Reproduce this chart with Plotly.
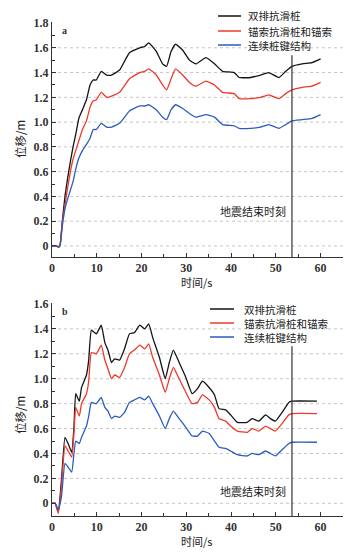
import plotly.graph_objects as go

# ---------------- data: panel a ----------------
t_a = [0, 1.0, 1.4, 1.8, 2.3, 2.9, 3.5, 4.1, 4.7, 5.3, 6.0, 6.8, 7.7, 8.5, 9.2, 9.9,
       11.0, 12.2, 13.3, 15.1, 17.3, 19.6, 20.7, 21.6, 23.3, 24.7, 25.6, 26.6, 27.6,
       29.2, 30.7, 32.1, 34.4, 36.3, 38.1, 40.7, 41.8, 44.4, 46.6, 48.4, 50.7, 52.2,
       53.6, 55.9, 58.1, 60.0]
double_a = [0, 0, -0.01, 0.01, 0.20, 0.40, 0.55, 0.68, 0.80, 0.90, 1.03, 1.10, 1.18, 1.30,
            1.34, 1.34, 1.41, 1.38, 1.38, 1.42, 1.56, 1.60, 1.61, 1.64, 1.57, 1.47, 1.45,
            1.57, 1.63, 1.58, 1.50, 1.47, 1.52, 1.47, 1.41, 1.40, 1.36, 1.36, 1.38, 1.40,
            1.36, 1.41, 1.45, 1.47, 1.48, 1.51]
anchor_a = [0, 0, -0.01, 0.01, 0.19, 0.33, 0.47, 0.60, 0.70, 0.77, 0.85, 0.94, 1.01, 1.12,
            1.17, 1.18, 1.24, 1.20, 1.21, 1.24, 1.35, 1.40, 1.41, 1.43, 1.38, 1.30, 1.26,
            1.35, 1.43, 1.38, 1.32, 1.29, 1.33, 1.30, 1.24, 1.23, 1.19, 1.19, 1.20, 1.22,
            1.19, 1.23, 1.26, 1.28, 1.29, 1.32]
cont_a = [0, 0, -0.01, 0.0, 0.16, 0.30, 0.38, 0.45, 0.52, 0.62, 0.71, 0.77, 0.82, 0.87,
          0.94, 0.94, 0.99, 0.96, 0.96, 0.99, 1.09, 1.13, 1.13, 1.14, 1.10, 1.04, 1.02,
          1.10, 1.14, 1.11, 1.07, 1.04, 1.06, 1.04, 0.98, 0.97, 0.95, 0.95, 0.96, 0.98,
          0.95, 0.98, 1.01, 1.02, 1.03, 1.06]

# ---------------- data: panel b ----------------
t_b = [0, 0.7, 1.4, 2.1, 2.9, 3.6, 4.4, 4.9, 5.3, 6.1, 6.6, 7.7, 8.2, 8.8, 9.9, 11.0,
       11.8, 12.5, 13.3, 14.0, 15.1, 16.2, 17.3, 18.4, 19.6, 20.7, 21.6, 22.5, 24.0,
       25.3, 26.2, 27.1, 28.4, 29.9, 31.3, 32.5, 33.6, 35.1, 36.3, 37.3, 38.8, 39.9,
       41.4, 43.6, 44.7, 46.2, 47.7, 48.8, 49.9, 51.4, 52.9, 53.6, 59.2]
double_b = [0, 0, -0.07, 0.18, 0.53, 0.48, 0.41, 0.61, 0.88, 0.82, 0.93, 1.03, 1.15, 1.39,
            1.36, 1.43, 1.29, 1.23, 1.13, 1.16, 1.15, 1.24, 1.36, 1.37, 1.43, 1.40, 1.44,
            1.33, 1.17, 1.00, 1.13, 1.23, 1.13, 1.01, 0.88, 0.92, 0.98, 0.93, 0.87, 0.76,
            0.75, 0.71, 0.65, 0.65, 0.68, 0.66, 0.71, 0.68, 0.66, 0.73, 0.81, 0.82, 0.82]
anchor_b = [0, 0, -0.08, 0.13, 0.46, 0.42, 0.37, 0.56, 0.77, 0.70, 0.80, 0.88, 0.98, 1.21,
            1.20, 1.27, 1.15, 1.08, 1.00, 1.03, 1.01, 1.09, 1.20, 1.23, 1.27, 1.24, 1.28,
            1.17, 1.03, 0.89, 1.00, 1.09, 1.00, 0.89, 0.80, 0.81, 0.87, 0.83, 0.77, 0.68,
            0.66, 0.62, 0.58, 0.57, 0.60, 0.58, 0.62, 0.60, 0.58, 0.64, 0.71, 0.72, 0.72]
cont_b = [0, 0, -0.05, 0.05, 0.32, 0.29, 0.25, 0.40, 0.50, 0.48, 0.53, 0.62, 0.70, 0.81,
          0.80, 0.85, 0.77, 0.74, 0.68, 0.70, 0.69, 0.73, 0.81, 0.83, 0.85, 0.83, 0.86,
          0.80, 0.70, 0.60, 0.68, 0.74, 0.68, 0.61, 0.54, 0.54, 0.58, 0.56, 0.50, 0.45,
          0.44, 0.42, 0.39, 0.38, 0.40, 0.39, 0.42, 0.40, 0.38, 0.43, 0.48, 0.49, 0.49]

series_names = ["双排抗滑桩", "锚索抗滑桩和锚索", "连续桩键结构"]
quake_end = 53.6
quake_line_top = [1.54, 1.26]
yticks_a = [0, 0.2, 0.4, 0.6, 0.8, 1.0, 1.2, 1.4, 1.6, 1.8]
yticks_b = [0, 0.2, 0.4, 0.6, 0.8, 1.0, 1.2, 1.4, 1.6]
xticks = [0, 10, 20, 30, 40, 50, 60]

colors = ["#141414", "#ee3a2a", "#2b5cbf"]
W, H = 352, 552
ML, MR, MT, MB = 52, 9, 22, 36
PW, PH = W - ML - MR, H - MT - MB

def px(x):
    return (x - ML) / PW

def py(y):
    return (H - MB - y) / PH

CJK = "Noto Sans CJK SC"
SERIF = "Liberation Serif, Times New Roman, serif"

fig = go.Figure()

panels = [
    ("x", "y", t_a, [double_a, anchor_a, cont_a]),
    ("x2", "y2", t_b, [double_b, anchor_b, cont_b]),
]
for i, (xa, ya, t, ys) in enumerate(panels):
    for name, vals, c in zip(series_names, ys, colors):
        fig.add_trace(go.Scatter(x=t, y=vals, mode="lines", name=name, xaxis=xa, yaxis=ya,
                                 line=dict(color=c, width=1.3, shape="spline", smoothing=0.4),
                                 showlegend=False))
    yr = [-0.089, 1.808] if i == 0 else [-0.102, 1.608]
    fig.add_trace(go.Scatter(x=[quake_end, quake_end], y=[yr[0], quake_line_top[i]],
                             mode="lines", xaxis=xa, yaxis=ya, showlegend=False,
                             line=dict(color="#333333", width=1.2)))

# dotted grid lines
for xr, yr_, ticks in [("x", "y", yticks_a[:-1]), ("x2", "y2", yticks_b[:-1])]:
    for v in ticks:
        fig.add_shape(type="line", xref=xr, yref=yr_, x0=0, x1=65, y0=v, y1=v,
                      line=dict(color="#b8b8b8", width=0.8, dash="dot"), layer="below")

tickfont = dict(family=SERIF, size=12, color="#333333", weight="bold")

def xaxis_cfg(anchor):
    return dict(range=[0, 65], anchor=anchor, showline=True, linecolor="#333333", linewidth=1,
                ticks="inside", ticklen=4, tickcolor="#333333", tickvals=xticks,
                ticktext=[str(v) for v in xticks], tickfont=tickfont, showgrid=False,
                zeroline=False,
                minor=dict(tickmode="linear", tick0=0, dtick=5, ticks="inside", ticklen=3,
                           tickcolor="#333333", showgrid=False))

def yaxis_cfg(anchor, rng, dom, ticks):
    return dict(range=rng, domain=dom, anchor=anchor, showline=True, linecolor="#333333",
                linewidth=1, ticks="inside", ticklen=4, tickcolor="#333333", tickvals=ticks,
                ticktext=["0" if v == 0 else f"{v:.1f}" for v in ticks], tickfont=tickfont,
                showgrid=False, zeroline=False,
                minor=dict(tickmode="linear", tick0=0, dtick=0.1, ticks="inside", ticklen=3,
                           tickcolor="#333333", showgrid=False))

fig.update_layout(
    width=W, height=H,
    margin=dict(l=ML, r=MR, t=MT, b=MB),
    paper_bgcolor="white", plot_bgcolor="white",
    showlegend=False,
    xaxis=xaxis_cfg("y"),
    yaxis=yaxis_cfg("x", [-0.089, 1.808], [py(257), 1.0], yticks_a),
    xaxis2=xaxis_cfg("y2"),
    yaxis2=yaxis_cfg("x2", [-0.102, 1.608], [0.0, py(303)], yticks_b),
)

ann = []
ann.append(dict(x=2.8, y=1.74, xref="x", yref="y", text="a", showarrow=False,
                xanchor="center", yanchor="middle",
                font=dict(family=SERIF, size=10, color="#333", weight="bold")))
ann.append(dict(x=2.8, y=1.54, xref="x2", yref="y2", text="b", showarrow=False,
                xanchor="center", yanchor="middle",
                font=dict(family=SERIF, size=10, color="#333", weight="bold")))
ann.append(dict(x=52.7, y=0.28, xref="x", yref="y", text="地震结束时刻", showarrow=False,
                xanchor="right", yanchor="middle", font=dict(family=CJK, size=11, color="#222")))
ann.append(dict(x=52.7, y=0.10, xref="x2", yref="y2", text="地震结束时刻", showarrow=False,
                xanchor="right", yanchor="middle", font=dict(family=CJK, size=11, color="#222")))
for yy in (282, 541):
    ann.append(dict(x=px(196), y=py(yy), xref="paper", yref="paper", text="时间/s",
                    showarrow=False, xanchor="center", yanchor="middle",
                    font=dict(family=CJK, size=11, color="#222")))
for yy in (139, 415):
    ann.append(dict(x=px(20), y=py(yy), xref="paper", yref="paper", text="位移/m",
                    showarrow=False, textangle=-90, xanchor="center", yanchor="middle",
                    font=dict(family=CJK, size=11.5, color="#222")))

legend_specs = [
    (218, 241, 246, [16, 31, 45]),
    (210, 234, 242, [309, 323, 337]),
]
for (lx0, lx1, tx, rows) in legend_specs:
    for name, c, ry in zip(series_names, colors, rows):
        fig.add_shape(type="line", xref="paper", yref="paper", x0=px(lx0), x1=px(lx1),
                      y0=py(ry), y1=py(ry), line=dict(color=c, width=1.5))
        ann.append(dict(x=px(tx), y=py(ry), xref="paper", yref="paper", text=name,
                        showarrow=False, xanchor="left", yanchor="middle",
                        font=dict(family=CJK, size=10.5, color="#222")))

fig.update_layout(annotations=ann)
fig.write_html("out.html")
